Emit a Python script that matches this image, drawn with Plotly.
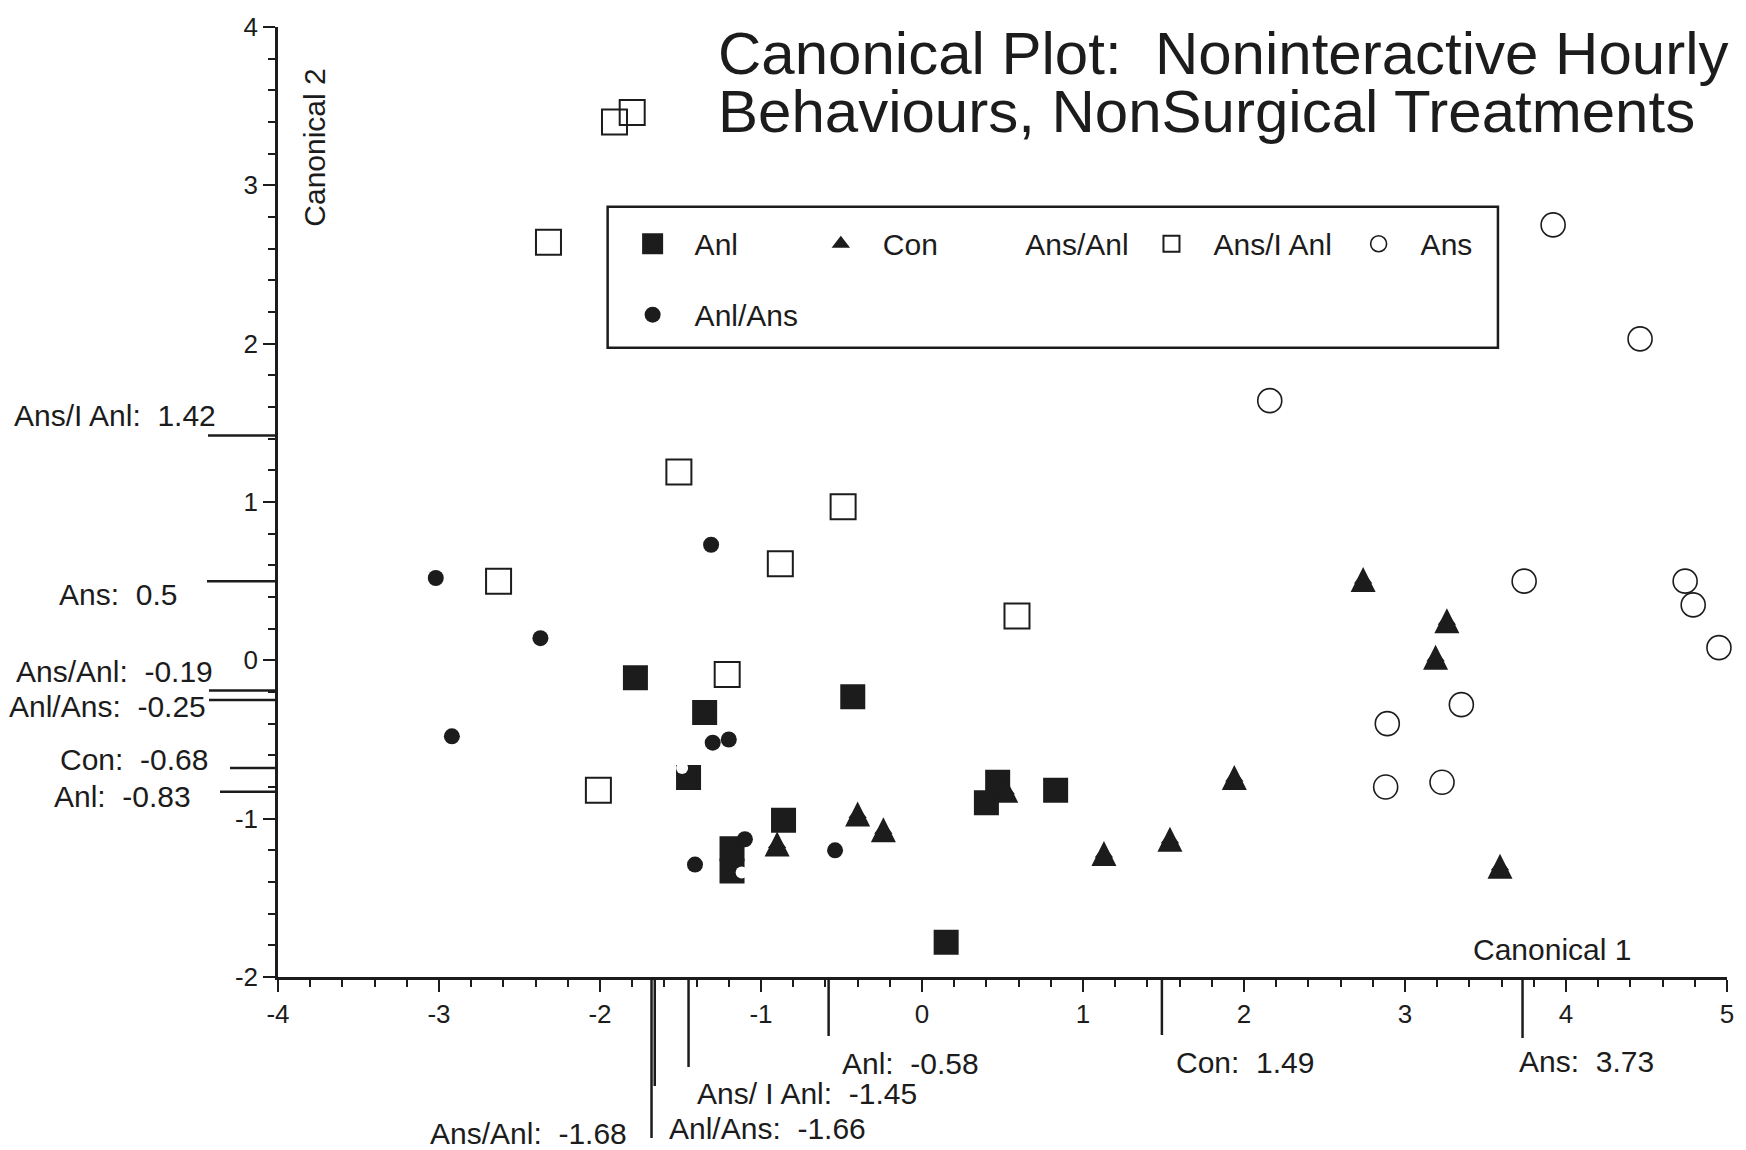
import plotly.graph_objects as go

# ---------------- data ----------------
anl_x = [-1.78, -1.35, -0.43, -1.45, -0.86, -1.18, -1.18, 0.47, 0.40, 0.83, 0.15]
anl_y = [-0.11, -0.33, -0.23, -0.74, -1.01, -1.19, -1.33, -0.77, -0.90, -0.82, -1.78]

con_x = [2.74, 3.26, 3.19, 1.94, 1.54, 1.13, 3.59, -0.40, -0.24, -0.90, 0.52]
con_y = [0.51, 0.25, 0.02, -0.74, -1.13, -1.22, -1.30, -0.97, -1.07, -1.16, -0.82]

# Ans/Anl is drawn in white: only visible where it bites into other symbols
ansanl_x = [-1.49, -1.12]
ansanl_y = [-0.68, -1.34]

ansi_x = [-1.91, -1.80, -2.32, -1.51, -0.49, -0.88, -2.63, 0.59, -1.21, -2.01]
ansi_y = [3.40, 3.46, 2.64, 1.19, 0.97, 0.61, 0.50, 0.28, -0.09, -0.82]

ans_x = [3.92, 4.46, 2.16, 3.74, 4.74, 4.79, 4.95, 3.35, 2.89, 2.88, 3.23]
ans_y = [2.75, 2.03, 1.64, 0.50, 0.50, 0.35, 0.08, -0.28, -0.40, -0.80, -0.77]

anlans_x = [-3.02, -2.37, -2.92, -1.31, -1.30, -1.20, -1.41, -1.10, -0.54]
anlans_y = [0.52, 0.14, -0.48, 0.73, -0.52, -0.50, -1.29, -1.13, -1.20]

# group means on Canonical 2 (left axis) and Canonical 1 (bottom axis)
c2_labels = ["Ans/I Anl", "Ans", "Ans/Anl", "Anl/Ans", "Con", "Anl"]
c2_means = [1.42, 0.5, -0.19, -0.25, -0.68, -0.83]
c1_labels = ["Anl", "Ans/ I Anl", "Anl/Ans", "Ans/Anl", "Con", "Ans"]
c1_means = [-0.58, -1.45, -1.66, -1.68, 1.49, 3.73]

x_tickvals = [-4, -3, -2, -1, 0, 1, 2, 3, 4, 5]
x_ticktext = ["-4", "-3", "-2", "-1", "0", "1", "2", "3", "4", "5"]
y_tickvals = [-2, -1, 0, 1, 2, 3, 4]
y_ticktext = ["-2", "-1", "0", "1", "2", "3", "4"]

title_lines = ["Canonical Plot:\u00a0 Noninteractive Hourly",
               "Behaviours, NonSurgical Treatments"]
x_title = "Canonical 1"
y_title = "Canonical 2"

# ---------------- styling ----------------
INK = "#1c1c1c"
FONT = "Liberation Sans, Arial, Helvetica, sans-serif"
W, H = 1746, 1150
ML, MR, MT, MB = 278, 13, 26, 173
PW, PH = W - ML - MR, H - MT - MB

fig = go.Figure()

# (name, x, y, marker, legend id, show in legend)
series = [
    ("Anl", anl_x, anl_y, dict(symbol="square", size=20, color=INK, line=dict(width=5, color=INK)), "legend", True),
    # legend carrier for Con (hidden beneath the drawn triangles)
    ("Con", con_x, con_y, dict(symbol="triangle-up", size=16, color=INK), "legend2", True),
    ("Con", con_x, con_y, dict(symbol="arrow-down", angle=180, standoff=12.5, size=25, color=INK), "legend2", False),
    ("Ans/Anl", ansanl_x, ansanl_y, dict(symbol="circle", size=12, color="white"), "legend3", True),
    ("Ans/I Anl", ansi_x, ansi_y, dict(symbol="square-open", size=25, color=INK, line=dict(width=2, color=INK)), "legend4", True),
    ("Ans", ans_x, ans_y, dict(symbol="circle-open", size=24, color=INK, line=dict(width=1.6, color=INK)), "legend5", True),
    ("Anl/Ans", anlans_x, anlans_y, dict(symbol="circle", size=16, color=INK), "legend6", True),
]
for name, xs, ys, mk, lg, show in series:
    fig.add_trace(go.Scatter(x=xs, y=ys, mode="markers", name=name, marker=mk,
                             legend=lg, showlegend=show, cliponaxis=False))

# legend item placement (item left edge in px from figure left, row centre in px from top)
legend_pos = {"legend": (612, 243), "legend2": (801, 243), "legend3": (944, 243),
              "legend4": (1133, 243), "legend5": (1341, 243), "legend6": (612, 314)}
for key, (px, py) in legend_pos.items():
    fig.update_layout({key: dict(x=(px - ML) / PW, y=(MT + PH - py) / PH, xanchor="left",
                                 yanchor="middle", bgcolor="rgba(0,0,0,0)", borderwidth=0,
                                 itemwidth=74, font=dict(size=30, family=FONT, color=INK),
                                 itemclick=False, itemdoubleclick=False, visible=True)})

shapes = []
annotations = []
# legend frame
shapes.append(dict(type="rect", xref="paper", yref="paper",
                   x0=(609 - ML) / PW, x1=(1503 - ML) / PW,
                   y0=(MT + PH - 347) / PH, y1=(MT + PH - 206) / PH,
                   line=dict(color=INK, width=2.5), fillcolor="rgba(0,0,0,0)"))

LBL = dict(size=30, family=FONT, color=INK)

# left-side mean markers: line length px, label right-edge offset px, label vertical offset px
left_style = [(70, -60, -20), (71, -99, 13), (69, -63, -19), (69, -70, 7), (48, -68, -9), (58, -85, 5)]
for lab, v, (ln, dx, dy) in zip(c2_labels, c2_means, left_style):
    shapes.append(dict(type="line", xref="paper", xsizemode="pixel", xanchor=0, x0=-ln, x1=0,
                       yref="y", y0=v, y1=v, line=dict(color=INK, width=2.5)))
    annotations.append(dict(text=f"{lab}:\u00a0 {v:g}", xref="paper", x=0, xanchor="right",
                            xshift=dx, yref="y", y=v, yanchor="middle", yshift=-dy,
                            showarrow=False, font=LBL))

# bottom mean markers: line length px, anchor, horizontal offset px, label depth px
bottom_style = [(59, "left", 11, 86), (90, "left", 6, 116), (109, "left", 12, 151),
                (161, "right", -23, 156), (58, "left", 12, 85), (61, "left", -6, 84)]
for lab, v, (ln, anc, dx, dep) in zip(c1_labels, c1_means, bottom_style):
    shapes.append(dict(type="line", yref="paper", ysizemode="pixel", yanchor=0, y0=-ln, y1=0,
                       xref="x", x0=v, x1=v, line=dict(color=INK, width=2.5)))
    annotations.append(dict(text=f"{lab}:\u00a0 {v:g}", xref="x", x=v, xanchor=anc, xshift=dx,
                            yref="paper", y=0, yanchor="middle", yshift=-dep,
                            showarrow=False, font=LBL))

# title (two lines) and axis titles
for line, py in zip(title_lines, (53, 111)):
    annotations.append(dict(text=line, xref="paper", x=(718 - ML) / PW, xanchor="left",
                            yref="paper", y=(MT + PH - py) / PH, yanchor="middle",
                            showarrow=False, font=dict(size=60, family=FONT, color=INK)))
annotations.append(dict(text=y_title, textangle=-90, xref="paper", x=(315 - ML) / PW,
                        yref="paper", y=(MT + PH - 147) / PH, xanchor="center", yanchor="middle",
                        showarrow=False, font=dict(size=30, family=FONT, color=INK)))
annotations.append(dict(text=x_title, xref="paper", x=(1557 - ML) / PW, xanchor="center",
                        yref="paper", y=(MT + PH - 949) / PH, yanchor="middle",
                        showarrow=False, font=dict(size=30, family=FONT, color=INK)))

axis_common = dict(showline=True, linecolor=INK, linewidth=2.5, showgrid=False, zeroline=False,
                   ticks="outside", ticklen=12, tickwidth=2, tickcolor=INK,
                   tickfont=dict(size=26, family=FONT, color=INK),
                   minor=dict(ticks="outside", ticklen=7, tickwidth=1.5, tickcolor=INK, dtick=0.2))

fig.update_layout(
    width=W, height=H, margin=dict(l=ML, r=MR, t=MT, b=MB),
    paper_bgcolor="white", plot_bgcolor="white", showlegend=True,
    font=dict(family=FONT, color=INK),
    xaxis=dict(range=[-4, 5], tickmode="array", tickvals=x_tickvals, ticktext=x_ticktext, **axis_common),
    yaxis=dict(range=[-2, 4], tickmode="array", tickvals=y_tickvals, ticktext=y_ticktext, **axis_common),
    shapes=shapes, annotations=annotations,
)

fig.write_html("out.html")
